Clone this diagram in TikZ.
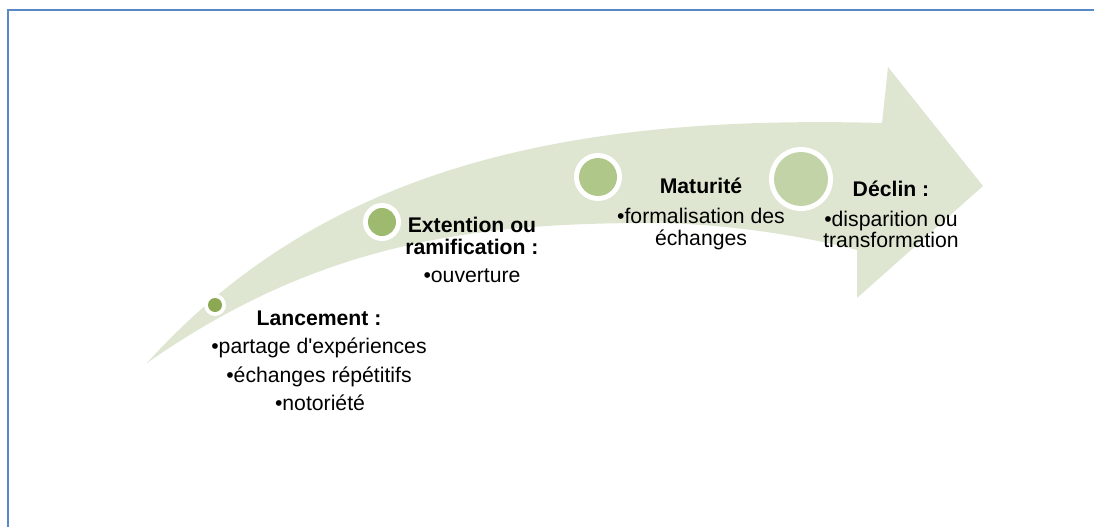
\documentclass[tikz,border=0pt]{standalone}
\usepackage{fontspec}
\setmainfont{Liberation Sans}
\definecolor{framebl}{RGB}{88,136,198}
\definecolor{arrowfill}{RGB}{222,230,210}
\definecolor{dotA}{RGB}{140,168,82}
\definecolor{dotB}{RGB}{158,186,110}
\definecolor{dotC}{RGB}{176,199,138}
\definecolor{dotD}{RGB}{194,212,167}
\begin{document}
\begin{tikzpicture}[x=1pt,y=-1pt,
  frame/.style={draw=framebl, line width=2pt},
  ring/.style={circle, fill=white, inner sep=0pt, minimum size=#1},
  stagedot/.style={circle, inner sep=0pt, minimum size=#1},
  title/.style={font=\bfseries\fontsize{21.2}{22}\selectfont, anchor=base, inner sep=0pt},
  item/.style={font=\fontsize{21.2}{22}\selectfont, anchor=base, inner sep=0pt}]
\useasboundingbox (0,0) rectangle (1094,527);

% page frame (left and top edges)
\draw[frame] (7.5,527) -- (7.5,10.5) -- (1094,10.5);

% curved arrow
\fill[arrowfill]
  (147,363) .. controls (330,160) and (582,115) .. (882,123)
  -- (888,67) -- (983,186) -- (857,298) -- (857,250)
  .. controls (800,235) and (720,223) .. (650,223)
  .. controls (470,223) and (317,244) .. (147,363)
  -- cycle;

% stage markers
\node[ring=22pt] (r1) at (215,305) {};
\node[stagedot=14pt, fill=dotA] (d1) at (r1) {};
\node[ring=38pt] (r2) at (382,222) {};
\node[stagedot=28pt, fill=dotB] (d2) at (r2) {};
\node[ring=48pt] (r3) at (598,177) {};
\node[stagedot=38pt, fill=dotC] (d3) at (r3) {};
\node[ring=64pt] (r4) at (801,179) {};
\node[stagedot=54pt, fill=dotD] (d4) at (r4) {};

% stage labels
\node[title] (lanT) at (319,325) {Lancement :};
\node[item] (lan1) at (319,353) {•partage d\textquotesingle expériences};
\node[item] (lan2) at (319,382) {•échanges répétitifs};
\node[item] (lan3) at (320,410) {•notoriété};

\node[title] (extT1) at (472,232) {Extention ou};
\node[title] (extT2) at (472,254) {ramification :};
\node[item] (ext1) at (472,282) {•ouverture};

\node[title] (matT) at (701,193) {Maturité};
\node[item] (mat1) at (701,223) {•formalisation des};
\node[item] (mat2) at (701,245) {échanges};

\node[title] (decT) at (891,196) {Déclin :};
\node[item] (dec1) at (891,226) {•disparition ou};
\node[item] (dec2) at (891,247) {transformation};
\end{tikzpicture}
\end{document}
